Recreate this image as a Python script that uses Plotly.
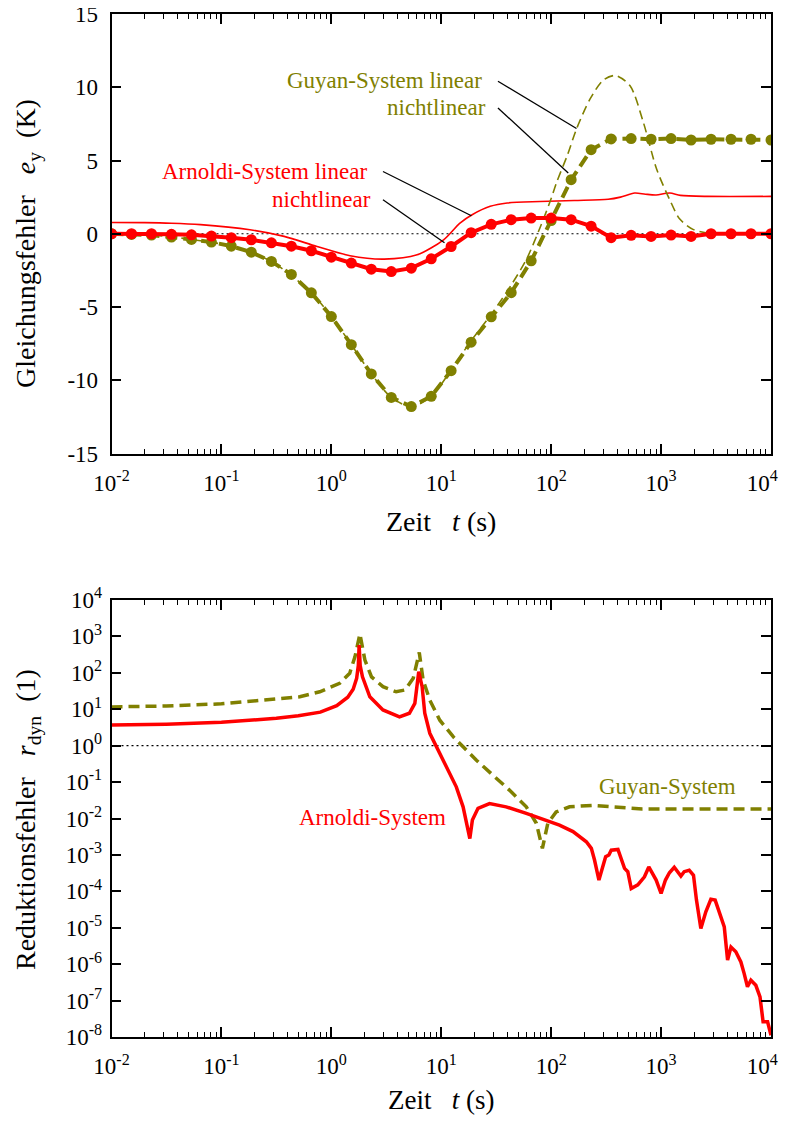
import plotly.graph_objects as go

# ---------------- data: upper panel (Gleichungsfehler e_y in K) ----------------
t_marker = [0.01, 0.0152, 0.0231, 0.0351, 0.0534, 0.0811, 0.123, 0.187, 0.285, 0.433,
            0.658, 1.0, 1.52, 2.31, 3.51, 5.34, 8.11, 12.3, 18.7, 28.5,
            43.3, 65.8, 100, 152, 231, 351, 534, 811, 1233, 1874,
            2848, 4329, 6579, 10000]
guyan_nonlin = [0.0, -0.05, -0.09, -0.23, -0.39, -0.57, -0.85, -1.26, -1.89, -2.78,
                -4.03, -5.65, -7.57, -9.57, -11.17, -11.8, -11.1, -9.35, -7.4, -5.67,
                -4.02, -1.85, 0.9, 3.69, 5.74, 6.47, 6.5, 6.45, 6.5, 6.4,
                6.45, 6.45, 6.45, 6.4]
arnoldi_nonlin = [0.0, 0.0, 0.0, -0.04, -0.07, -0.16, -0.27, -0.41, -0.62, -0.85,
                  -1.16, -1.6, -2.0, -2.42, -2.58, -2.35, -1.71, -0.87, 0.07, 0.64,
                  0.96, 1.07, 1.07, 0.96, 0.52, -0.27, -0.11, -0.18, -0.09, -0.18,
                  0.0, 0.0, 0.0, 0.0]

t_guyan_lin = [0.01, 0.0231, 0.0534, 0.123, 0.285, 0.658, 1.0, 1.52, 2.31, 3.51,
               5.34, 8.11, 12.3, 18.7, 28.5, 43.3, 60, 80, 100, 112,
               141, 171, 226, 299, 387, 522, 690, 912, 1202, 1479,
               1950, 2630, 10000]
guyan_lin = [0.0, -0.09, -0.39, -0.85, -1.89, -4.03, -5.65, -7.57, -9.57, -11.17,
             -11.8, -11.1, -9.3, -7.3, -5.5, -3.5, -1.7, 0.5, 2.4, 3.5,
             5.4, 7.2, 9.2, 10.5, 10.8, 10.1, 7.6, 4.4, 2.3, 1.0,
             0.3, 0.05, 0.0]

t_arnoldi_lin = [0.01, 0.02, 0.035, 0.0646, 0.182, 0.372, 0.741, 1.48, 3.02, 6.03,
                 10.5, 14.8, 19.1, 27.9, 39.8, 79, 162, 330, 427, 575,
                 720, 900, 1200, 1500, 2630, 10000]
arnoldi_lin = [0.77, 0.76, 0.72, 0.62, 0.27, -0.18, -0.87, -1.5, -1.73, -1.44,
               -0.41, 0.73, 1.3, 1.87, 2.1, 2.2, 2.27, 2.35, 2.5, 2.78,
               2.7, 2.65, 2.78, 2.62, 2.55, 2.55]

# ---------------- data: lower panel (Reduktionsfehler r_dyn) ----------------
t_guyan_r = [0.01, 0.0316, 0.1, 0.316, 0.516, 0.785, 1.19, 1.47, 1.64, 1.82,
             2.02, 2.32, 2.95, 3.89, 4.68, 5.56, 6.31, 6.84, 7.87, 9.70,
             12.9, 15.8, 20.9, 29.5, 41.7, 59.4, 73.3, 83.2, 93.3, 111,
             147, 234, 417, 676, 10000]
guyan_r = [11.6, 12.3, 14.1, 18.6, 22.0, 30.2, 51.3, 97.7, 275, 1175,
           224, 77.6, 41.7, 30.2, 33.9, 70.8, 363, 63.1, 17.8, 5.01,
           1.74, 0.933, 0.398, 0.155, 0.0603, 0.0209, 0.00741, 0.00151, 0.00741, 0.0151,
           0.0209, 0.0229, 0.0200, 0.0182, 0.0182]

t_arnoldi_r = [0.01, 0.0316, 0.1, 0.2, 0.316, 0.501, 0.794, 1.12, 1.41, 1.58,
               1.70, 1.76, 1.79, 1.83, 1.92, 2.24, 2.95, 4.17, 5.13, 5.75,
               6.24, 6.70, 7.08, 7.87,
               9.04, 11.1, 13.7, 15.8, 17.0, 18.2, 19.2, 21.6, 27.5, 38.9,
               59.4, 90.4, 119, 158, 209, 232, 248, 272, 295, 313,
               335, 352, 405, 434, 465, 498, 535, 614, 706, 773,
               902, 1000, 1096, 1191, 1318, 1514, 1622, 1803, 1972, 2099,
               2301, 2553, 2838, 3105, 3388, 3758, 4027, 4325, 4786, 5321,
               5702, 6109, 6561, 7278, 7943, 8472, 9311, 10000]
arnoldi_r = [3.67, 3.89, 4.37, 5.01, 5.62, 6.61, 8.32, 12.6, 21.4, 35.5,
             70.8, 158, 575, 158,
             77.6, 21.9, 9.55, 6.17, 7.76, 14.5, 107, 41.7, 7.76, 2.19,
             0.933, 0.263, 0.0741, 0.0209, 0.00741, 0.00282, 0.00912, 0.0191, 0.0257, 0.0209,
             0.0138, 0.00912, 0.00661, 0.00437, 0.00229, 0.00151, 7.24e-4, 2.04e-4, 4.68e-4, 8.91e-4,
             1.0e-3, 1.35e-3, 1.41e-3, 7.94e-4, 4.27e-4, 3.47e-4, 1.20e-4, 1.51e-4, 2.51e-4, 4.68e-4,
             2.04e-4, 8.71e-5, 2.04e-4, 3.24e-4, 4.57e-4, 2.63e-4, 3.47e-4, 3.80e-4, 2.75e-4, 5.75e-5,
             9.55e-6, 2.75e-5, 6.03e-5, 5.75e-5, 2.75e-5, 1.05e-5, 1.29e-6, 2.95e-6, 2.19e-6, 1.15e-6,
             5.50e-7, 2.40e-7, 3.63e-7, 2.63e-7, 1.26e-7, 2.63e-8, 2.63e-8, 1.12e-8]

# reference lines
t_ref = [0.01, 10000]
zero_ref = [0, 0]
one_ref = [1, 1]

# tick labels (the last one is padded so it stays inside the window)
x_tickvals = [0.01, 0.1, 1, 10, 100, 1000, 10000]
x_ticktext = ["10<sup>-2</sup>", "10<sup>-1</sup>", "10<sup>0</sup>", "10<sup>1</sup>",
              "10<sup>2</sup>", "10<sup>3</sup>", "10<sup>4</sup>\u00a0\u00a0\u00a0"]
y1_tickvals = [-15, -10, -5, 0, 5, 10, 15]
y1_ticktext = ["-15", "-10", "-5", "0", "5", "10", "15"]
y2_tickvals = [1e4, 1e3, 1e2, 1e1, 1e0, 1e-1, 1e-2, 1e-3, 1e-4, 1e-5, 1e-6, 1e-7, 1e-8]
y2_ticktext = ["10<sup>4</sup>", "10<sup>3</sup>", "10<sup>2</sup>", "10<sup>1</sup>", "10<sup>0</sup>",
               "10<sup>-1</sup>", "10<sup>-2</sup>", "10<sup>-3</sup>", "10<sup>-4</sup>",
               "10<sup>-5</sup>", "10<sup>-6</sup>", "10<sup>-7</sup>", "10<sup>-8</sup>"]

# leader lines of the labels (t in s, e_y in K)
lead_guyan_lin = ([32.8, 170], [10.41, 7.18])
lead_guyan_nl = ([32.8, 143], [8.59, 4.15])
lead_arn_lin = ([2.95, 18.8], [4.25, 1.23])
lead_arn_nl = ([2.95, 10.7], [2.32, -0.62])

RED = "#FF0000"
OLIVE = "#808000"
FONT = "Liberation Serif"

fig = go.Figure()

# ---- upper panel ----
fig.add_trace(go.Scatter(x=t_ref, y=zero_ref, mode="lines", xaxis="x", yaxis="y",
                         line=dict(color="black", width=1.2, dash="2px,3px")))
fig.add_trace(go.Scatter(x=t_arnoldi_lin, y=arnoldi_lin, mode="lines", xaxis="x", yaxis="y",
                         line=dict(color=RED, width=1.6, shape="spline", smoothing=0.8)))
fig.add_trace(go.Scatter(x=t_guyan_lin, y=guyan_lin, mode="lines", xaxis="x", yaxis="y",
                         line=dict(color=OLIVE, width=1.6, dash="9px,5px", shape="spline", smoothing=0.8)))
fig.add_trace(go.Scatter(x=t_marker, y=guyan_nonlin, mode="lines+markers", xaxis="x", yaxis="y",
                         line=dict(color=OLIVE, width=4, dash="12px,6px"),
                         marker=dict(color=OLIVE, size=11, symbol="circle")))
fig.add_trace(go.Scatter(x=t_marker, y=arnoldi_nonlin, mode="lines+markers", xaxis="x", yaxis="y",
                         line=dict(color=RED, width=4),
                         marker=dict(color=RED, size=11, symbol="circle")))
for lx, ly in [lead_guyan_lin, lead_guyan_nl, lead_arn_lin, lead_arn_nl]:
    fig.add_trace(go.Scatter(x=lx, y=ly, mode="lines", xaxis="x", yaxis="y",
                             line=dict(color="black", width=1.3)))

# ---- lower panel ----
fig.add_trace(go.Scatter(x=t_ref, y=one_ref, mode="lines", xaxis="x2", yaxis="y2",
                         line=dict(color="black", width=1.2, dash="2px,3px")))
fig.add_trace(go.Scatter(x=t_guyan_r, y=guyan_r, mode="lines", xaxis="x2", yaxis="y2",
                         line=dict(color=OLIVE, width=3.5, dash="11px,6px")))
fig.add_trace(go.Scatter(x=t_arnoldi_r, y=arnoldi_r, mode="lines", xaxis="x2", yaxis="y2",
                         line=dict(color=RED, width=3.5)))

# the page body adds an 8 px offset; the figure is sized to fit the window exactly
OFF = 8
W, H = 789 - 2 * OFF, 1126 - 2 * OFF


def px_x(p):
    return (p - OFF) / W


def px_y(p):
    return 1 - (p - OFF) / H


xdom = [px_x(111.5), px_x(771.0)]
y1dom = [px_y(453.5), px_y(14)]
y2dom = [px_y(1037), px_y(600)]

minor_vals = [m * 10.0 ** k for k in range(-2, 4) for m in range(2, 10)]

tickfont = dict(family=FONT, size=23, color="black")
common_axis = dict(showline=True, linecolor="black", linewidth=1.6, mirror="ticks",
                   ticks="inside", ticklen=10, tickwidth=1.5, tickcolor="black",
                   showgrid=False, zeroline=False, tickfont=tickfont, tickmode="array",
                   automargin=False, ticklabeloverflow="allow")

xaxis_common = dict(type="log", range=[-2, 4], domain=xdom, tickvals=x_tickvals,
                    ticktext=x_ticktext, ticklabelstandoff=8,
                    minor=dict(tickvals=minor_vals, ticks="inside", ticklen=5,
                               tickwidth=1.2, tickcolor="black", showgrid=False),
                    **common_axis)

fig.update_layout(
    width=W, height=H,
    margin=dict(l=0, r=0, t=0, b=0, autoexpand=False),
    paper_bgcolor="white", plot_bgcolor="white",
    showlegend=False,
    xaxis=dict(anchor="y", **xaxis_common),
    yaxis=dict(anchor="x", range=[-15, 15], domain=y1dom, tickvals=y1_tickvals,
               ticktext=y1_ticktext, ticklabelstandoff=7, **common_axis),
    xaxis2=dict(anchor="y2", **xaxis_common),
    yaxis2=dict(anchor="x2", type="log", range=[-8, 4], domain=y2dom, tickvals=y2_tickvals,
                ticktext=y2_ticktext, ticklabelstandoff=3, **common_axis),
)

lab = dict(family=FONT, size=23)
TF = dict(family=FONT, size=28, color="black")
annotations = [
    # upper panel labels (x in log10 units)
    dict(x=1.389, y=10.45, xref="x", yref="y", text="Guyan-System linear", showarrow=False,
         xanchor="right", yanchor="middle", font=dict(color=OLIVE, **lab)),
    dict(x=1.425, y=8.63, xref="x", yref="y", text="nichtlinear", showarrow=False,
         xanchor="right", yanchor="middle", font=dict(color=OLIVE, **lab)),
    dict(x=0.34, y=4.25, xref="x", yref="y", text="Arnoldi-System linear", showarrow=False,
         xanchor="right", yanchor="middle", font=dict(color=RED, **lab)),
    dict(x=0.38, y=2.35, xref="x", yref="y", text="nichtlinear", showarrow=False,
         xanchor="right", yanchor="middle", font=dict(color=RED, **lab)),
    # lower panel labels
    dict(x=3.055, y=-1.13, xref="x2", yref="y2", text="Guyan-System", showarrow=False,
         xanchor="center", yanchor="middle", font=dict(color=OLIVE, **lab)),
    dict(x=0.376, y=-1.97, xref="x2", yref="y2", text="Arnoldi-System", showarrow=False,
         xanchor="center", yanchor="middle", font=dict(color=RED, **lab)),
    # axis titles
    dict(x=px_x(441), y=px_y(522), xref="paper", yref="paper",
         text="Zeit\u00a0\u00a0\u00a0<i>t</i>\u00a0(s)", showarrow=False,
         xanchor="center", yanchor="middle", font=TF),
    dict(x=px_x(441), y=px_y(1100), xref="paper", yref="paper",
         text="Zeit\u00a0\u00a0\u00a0<i>t</i>\u00a0(s)", showarrow=False,
         xanchor="center", yanchor="middle", font=dict(family=FONT, size=27, color="black")),
    dict(x=px_x(27), y=px_y(244), xref="paper", yref="paper",
         text="Gleichungsfehler\u00a0\u00a0\u00a0<i>e</i><sub>y</sub>\u00a0\u00a0(K)", showarrow=False,
         textangle=-90, xanchor="center", yanchor="middle", font=TF),
    dict(x=px_x(27), y=px_y(820), xref="paper", yref="paper",
         text="Reduktionsfehler\u00a0\u00a0\u00a0<i>r</i><sub>dyn</sub>\u00a0\u00a0(1)", showarrow=False,
         textangle=-90, xanchor="center", yanchor="middle", font=TF),
]
fig.update_layout(annotations=annotations)

fig.write_html("out.html")
